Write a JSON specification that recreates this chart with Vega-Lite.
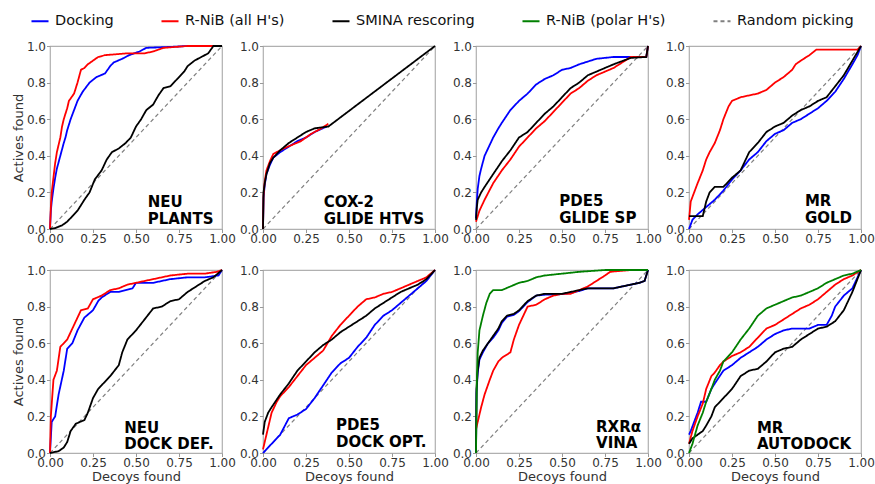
{
"$schema":"https://vega.github.io/schema/vega-lite/v6.json",
"background":"white",
"padding":{"left":11,"top":11,"right":5,"bottom":5},
"config":{
 "font":"DejaVu Sans",
 "view":{"stroke":"#b0b0b0","strokeWidth":1.2},
 "axis":{"domain":false,"grid":false,"tickColor":"#999999","tickSize":3.5,"labelPadding":1,"labelFont":"DejaVu Sans","labelFontSize":12,"labelColor":"#333333","labelFlush":false,"labelOverlap":false,"titleFont":"DejaVu Sans","titleFontSize":13,"titleFontWeight":"normal","titleColor":"#333333"},
 "axisX":{"titlePadding":2},
 "axisY":{"titlePadding":1,"values":[0,0.2,0.4,0.6,0.8,1],"format":".1f","labelOverlap":false},
 "legend":{"orient":"none","legendX":-20,"legendY":-35,"direction":"horizontal","columnPadding":43,"labelFont":"DejaVu Sans","labelFontSize":14.5,"labelColor":"#111111","labelOffset":5,"labelLimit":300,"symbolSize":290,"symbolStrokeWidth":2,"symbolType":"stroke","title":null,"labelExpr":"datum.label == 'SMINA rescoring' ? 'SMINA rescoring        ' : (datum.label == 'R-NiB (all H\\'s)' ? datum.label + '   ' : (datum.label == 'R-NiB (polar H\\'s)' ? datum.label + '      ' : datum.label))"}
},
"datasets":{
 "rand":[{"s":"Random picking","x":0,"y":0},{"s":"Random picking","x":1,"y":1}],
 "p1":[
  {"s":"Docking","x":0,"y":0},{"s":"Docking","x":0.005,"y":0.1},{"s":"Docking","x":0.01,"y":0.15},{"s":"Docking","x":0.02,"y":0.22},{"s":"Docking","x":0.03,"y":0.28},{"s":"Docking","x":0.04,"y":0.33},{"s":"Docking","x":0.06,"y":0.4},{"s":"Docking","x":0.08,"y":0.47},{"s":"Docking","x":0.09,"y":0.5},{"s":"Docking","x":0.1,"y":0.54},{"s":"Docking","x":0.12,"y":0.6},{"s":"Docking","x":0.14,"y":0.65},{"s":"Docking","x":0.16,"y":0.7},{"s":"Docking","x":0.19,"y":0.75},{"s":"Docking","x":0.23,"y":0.8},{"s":"Docking","x":0.27,"y":0.83},{"s":"Docking","x":0.32,"y":0.85},{"s":"Docking","x":0.35,"y":0.89},{"s":"Docking","x":0.37,"y":0.91},{"s":"Docking","x":0.42,"y":0.93},{"s":"Docking","x":0.46,"y":0.95},{"s":"Docking","x":0.52,"y":0.97},{"s":"Docking","x":0.56,"y":0.99},{"s":"Docking","x":0.7,"y":0.995},{"s":"Docking","x":0.8,"y":1},{"s":"Docking","x":1,"y":1},
  {"s":"R-NiB (all H's)","x":0,"y":0},{"s":"R-NiB (all H's)","x":0.005,"y":0.12},{"s":"R-NiB (all H's)","x":0.01,"y":0.2},{"s":"R-NiB (all H's)","x":0.02,"y":0.28},{"s":"R-NiB (all H's)","x":0.03,"y":0.36},{"s":"R-NiB (all H's)","x":0.04,"y":0.42},{"s":"R-NiB (all H's)","x":0.06,"y":0.5},{"s":"R-NiB (all H's)","x":0.07,"y":0.56},{"s":"R-NiB (all H's)","x":0.08,"y":0.6},{"s":"R-NiB (all H's)","x":0.1,"y":0.66},{"s":"R-NiB (all H's)","x":0.11,"y":0.7},{"s":"R-NiB (all H's)","x":0.14,"y":0.74},{"s":"R-NiB (all H's)","x":0.16,"y":0.8},{"s":"R-NiB (all H's)","x":0.18,"y":0.87},{"s":"R-NiB (all H's)","x":0.2,"y":0.88},{"s":"R-NiB (all H's)","x":0.22,"y":0.9},{"s":"R-NiB (all H's)","x":0.25,"y":0.92},{"s":"R-NiB (all H's)","x":0.28,"y":0.94},{"s":"R-NiB (all H's)","x":0.32,"y":0.95},{"s":"R-NiB (all H's)","x":0.45,"y":0.96},{"s":"R-NiB (all H's)","x":0.55,"y":0.96},{"s":"R-NiB (all H's)","x":0.6,"y":0.97},{"s":"R-NiB (all H's)","x":0.66,"y":0.99},{"s":"R-NiB (all H's)","x":0.8,"y":1},{"s":"R-NiB (all H's)","x":1,"y":1},
  {"s":"SMINA rescoring","x":0,"y":0},{"s":"SMINA rescoring","x":0.03,"y":0.005},{"s":"SMINA rescoring","x":0.07,"y":0.02},{"s":"SMINA rescoring","x":0.1,"y":0.04},{"s":"SMINA rescoring","x":0.13,"y":0.07},{"s":"SMINA rescoring","x":0.16,"y":0.1},{"s":"SMINA rescoring","x":0.2,"y":0.16},{"s":"SMINA rescoring","x":0.23,"y":0.2},{"s":"SMINA rescoring","x":0.26,"y":0.27},{"s":"SMINA rescoring","x":0.3,"y":0.32},{"s":"SMINA rescoring","x":0.33,"y":0.38},{"s":"SMINA rescoring","x":0.36,"y":0.42},{"s":"SMINA rescoring","x":0.4,"y":0.44},{"s":"SMINA rescoring","x":0.44,"y":0.47},{"s":"SMINA rescoring","x":0.47,"y":0.5},{"s":"SMINA rescoring","x":0.5,"y":0.56},{"s":"SMINA rescoring","x":0.53,"y":0.6},{"s":"SMINA rescoring","x":0.56,"y":0.65},{"s":"SMINA rescoring","x":0.6,"y":0.68},{"s":"SMINA rescoring","x":0.63,"y":0.73},{"s":"SMINA rescoring","x":0.66,"y":0.77},{"s":"SMINA rescoring","x":0.7,"y":0.78},{"s":"SMINA rescoring","x":0.74,"y":0.82},{"s":"SMINA rescoring","x":0.78,"y":0.86},{"s":"SMINA rescoring","x":0.8,"y":0.89},{"s":"SMINA rescoring","x":0.84,"y":0.92},{"s":"SMINA rescoring","x":0.88,"y":0.94},{"s":"SMINA rescoring","x":0.92,"y":0.96},{"s":"SMINA rescoring","x":0.95,"y":1},{"s":"SMINA rescoring","x":1,"y":1}
 ],
 "p2":[
  {"s":"Docking","x":0,"y":0},{"s":"Docking","x":0.003,"y":0.17},{"s":"Docking","x":0.01,"y":0.24},{"s":"Docking","x":0.02,"y":0.3},{"s":"Docking","x":0.04,"y":0.35},{"s":"Docking","x":0.06,"y":0.39},{"s":"Docking","x":0.1,"y":0.42},{"s":"Docking","x":0.15,"y":0.45},{"s":"Docking","x":0.2,"y":0.48},{"s":"Docking","x":0.25,"y":0.5},{"s":"Docking","x":0.3,"y":0.53},{"s":"Docking","x":0.37,"y":0.56},
  {"s":"R-NiB (all H's)","x":0,"y":0},{"s":"R-NiB (all H's)","x":0.003,"y":0.18},{"s":"R-NiB (all H's)","x":0.01,"y":0.26},{"s":"R-NiB (all H's)","x":0.02,"y":0.32},{"s":"R-NiB (all H's)","x":0.04,"y":0.37},{"s":"R-NiB (all H's)","x":0.06,"y":0.41},{"s":"R-NiB (all H's)","x":0.08,"y":0.42},{"s":"R-NiB (all H's)","x":0.12,"y":0.44},{"s":"R-NiB (all H's)","x":0.17,"y":0.46},{"s":"R-NiB (all H's)","x":0.22,"y":0.48},{"s":"R-NiB (all H's)","x":0.28,"y":0.52},{"s":"R-NiB (all H's)","x":0.34,"y":0.55},{"s":"R-NiB (all H's)","x":0.38,"y":0.575},
  {"s":"SMINA rescoring","x":0,"y":0},{"s":"SMINA rescoring","x":0.003,"y":0.2},{"s":"SMINA rescoring","x":0.01,"y":0.25},{"s":"SMINA rescoring","x":0.02,"y":0.3},{"s":"SMINA rescoring","x":0.04,"y":0.36},{"s":"SMINA rescoring","x":0.06,"y":0.39},{"s":"SMINA rescoring","x":0.1,"y":0.43},{"s":"SMINA rescoring","x":0.15,"y":0.47},{"s":"SMINA rescoring","x":0.2,"y":0.5},{"s":"SMINA rescoring","x":0.25,"y":0.53},{"s":"SMINA rescoring","x":0.3,"y":0.55},{"s":"SMINA rescoring","x":0.38,"y":0.56},{"s":"SMINA rescoring","x":1,"y":1}
 ],
 "p3":[
  {"s":"Docking","x":0,"y":0.06},{"s":"Docking","x":0.005,"y":0.15},{"s":"Docking","x":0.01,"y":0.22},{"s":"Docking","x":0.02,"y":0.29},{"s":"Docking","x":0.03,"y":0.33},{"s":"Docking","x":0.05,"y":0.4},{"s":"Docking","x":0.08,"y":0.46},{"s":"Docking","x":0.1,"y":0.5},{"s":"Docking","x":0.13,"y":0.55},{"s":"Docking","x":0.15,"y":0.58},{"s":"Docking","x":0.2,"y":0.65},{"s":"Docking","x":0.25,"y":0.7},{"s":"Docking","x":0.3,"y":0.74},{"s":"Docking","x":0.35,"y":0.79},{"s":"Docking","x":0.4,"y":0.82},{"s":"Docking","x":0.45,"y":0.84},{"s":"Docking","x":0.5,"y":0.87},{"s":"Docking","x":0.55,"y":0.88},{"s":"Docking","x":0.6,"y":0.9},{"s":"Docking","x":0.7,"y":0.93},{"s":"Docking","x":0.8,"y":0.94},{"s":"Docking","x":0.99,"y":0.94},{"s":"Docking","x":1,"y":1},
  {"s":"R-NiB (all H's)","x":0,"y":0.04},{"s":"R-NiB (all H's)","x":0.01,"y":0.07},{"s":"R-NiB (all H's)","x":0.02,"y":0.1},{"s":"R-NiB (all H's)","x":0.05,"y":0.16},{"s":"R-NiB (all H's)","x":0.1,"y":0.25},{"s":"R-NiB (all H's)","x":0.15,"y":0.32},{"s":"R-NiB (all H's)","x":0.2,"y":0.38},{"s":"R-NiB (all H's)","x":0.25,"y":0.45},{"s":"R-NiB (all H's)","x":0.3,"y":0.5},{"s":"R-NiB (all H's)","x":0.35,"y":0.55},{"s":"R-NiB (all H's)","x":0.4,"y":0.59},{"s":"R-NiB (all H's)","x":0.45,"y":0.64},{"s":"R-NiB (all H's)","x":0.5,"y":0.69},{"s":"R-NiB (all H's)","x":0.55,"y":0.74},{"s":"R-NiB (all H's)","x":0.6,"y":0.77},{"s":"R-NiB (all H's)","x":0.65,"y":0.81},{"s":"R-NiB (all H's)","x":0.7,"y":0.84},{"s":"R-NiB (all H's)","x":0.75,"y":0.86},{"s":"R-NiB (all H's)","x":0.8,"y":0.88},{"s":"R-NiB (all H's)","x":0.85,"y":0.91},{"s":"R-NiB (all H's)","x":0.9,"y":0.94},{"s":"R-NiB (all H's)","x":0.99,"y":0.94},{"s":"R-NiB (all H's)","x":1,"y":1},
  {"s":"SMINA rescoring","x":0,"y":0.05},{"s":"SMINA rescoring","x":0.005,"y":0.12},{"s":"SMINA rescoring","x":0.01,"y":0.16},{"s":"SMINA rescoring","x":0.03,"y":0.2},{"s":"SMINA rescoring","x":0.05,"y":0.23},{"s":"SMINA rescoring","x":0.1,"y":0.3},{"s":"SMINA rescoring","x":0.15,"y":0.37},{"s":"SMINA rescoring","x":0.2,"y":0.43},{"s":"SMINA rescoring","x":0.25,"y":0.5},{"s":"SMINA rescoring","x":0.3,"y":0.53},{"s":"SMINA rescoring","x":0.35,"y":0.58},{"s":"SMINA rescoring","x":0.4,"y":0.63},{"s":"SMINA rescoring","x":0.45,"y":0.67},{"s":"SMINA rescoring","x":0.5,"y":0.72},{"s":"SMINA rescoring","x":0.55,"y":0.77},{"s":"SMINA rescoring","x":0.6,"y":0.8},{"s":"SMINA rescoring","x":0.65,"y":0.84},{"s":"SMINA rescoring","x":0.7,"y":0.86},{"s":"SMINA rescoring","x":0.8,"y":0.9},{"s":"SMINA rescoring","x":0.9,"y":0.935},{"s":"SMINA rescoring","x":0.99,"y":0.94},{"s":"SMINA rescoring","x":1,"y":1}
 ],
 "p4":[
  {"s":"Docking","x":0,"y":0},{"s":"Docking","x":0.02,"y":0.05},{"s":"Docking","x":0.05,"y":0.08},{"s":"Docking","x":0.1,"y":0.12},{"s":"Docking","x":0.15,"y":0.16},{"s":"Docking","x":0.2,"y":0.21},{"s":"Docking","x":0.25,"y":0.27},{"s":"Docking","x":0.3,"y":0.32},{"s":"Docking","x":0.35,"y":0.38},{"s":"Docking","x":0.4,"y":0.42},{"s":"Docking","x":0.45,"y":0.48},{"s":"Docking","x":0.5,"y":0.52},{"s":"Docking","x":0.55,"y":0.54},{"s":"Docking","x":0.6,"y":0.58},{"s":"Docking","x":0.65,"y":0.6},{"s":"Docking","x":0.7,"y":0.63},{"s":"Docking","x":0.75,"y":0.66},{"s":"Docking","x":0.8,"y":0.7},{"s":"Docking","x":0.85,"y":0.75},{"s":"Docking","x":0.9,"y":0.82},{"s":"Docking","x":0.95,"y":0.9},{"s":"Docking","x":0.98,"y":0.95},{"s":"Docking","x":1,"y":1},
  {"s":"R-NiB (all H's)","x":0,"y":0.05},{"s":"R-NiB (all H's)","x":0.01,"y":0.15},{"s":"R-NiB (all H's)","x":0.03,"y":0.2},{"s":"R-NiB (all H's)","x":0.05,"y":0.25},{"s":"R-NiB (all H's)","x":0.08,"y":0.32},{"s":"R-NiB (all H's)","x":0.1,"y":0.38},{"s":"R-NiB (all H's)","x":0.12,"y":0.42},{"s":"R-NiB (all H's)","x":0.15,"y":0.47},{"s":"R-NiB (all H's)","x":0.18,"y":0.54},{"s":"R-NiB (all H's)","x":0.2,"y":0.6},{"s":"R-NiB (all H's)","x":0.23,"y":0.67},{"s":"R-NiB (all H's)","x":0.25,"y":0.7},{"s":"R-NiB (all H's)","x":0.3,"y":0.72},{"s":"R-NiB (all H's)","x":0.35,"y":0.73},{"s":"R-NiB (all H's)","x":0.4,"y":0.74},{"s":"R-NiB (all H's)","x":0.45,"y":0.76},{"s":"R-NiB (all H's)","x":0.5,"y":0.8},{"s":"R-NiB (all H's)","x":0.55,"y":0.83},{"s":"R-NiB (all H's)","x":0.6,"y":0.87},{"s":"R-NiB (all H's)","x":0.62,"y":0.9},{"s":"R-NiB (all H's)","x":0.65,"y":0.92},{"s":"R-NiB (all H's)","x":0.7,"y":0.95},{"s":"R-NiB (all H's)","x":0.74,"y":0.98},{"s":"R-NiB (all H's)","x":0.98,"y":0.98},{"s":"R-NiB (all H's)","x":1,"y":1},
  {"s":"SMINA rescoring","x":0,"y":0.07},{"s":"SMINA rescoring","x":0.08,"y":0.07},{"s":"SMINA rescoring","x":0.1,"y":0.15},{"s":"SMINA rescoring","x":0.12,"y":0.2},{"s":"SMINA rescoring","x":0.15,"y":0.23},{"s":"SMINA rescoring","x":0.2,"y":0.23},{"s":"SMINA rescoring","x":0.25,"y":0.28},{"s":"SMINA rescoring","x":0.3,"y":0.32},{"s":"SMINA rescoring","x":0.35,"y":0.42},{"s":"SMINA rescoring","x":0.4,"y":0.47},{"s":"SMINA rescoring","x":0.45,"y":0.53},{"s":"SMINA rescoring","x":0.5,"y":0.56},{"s":"SMINA rescoring","x":0.55,"y":0.58},{"s":"SMINA rescoring","x":0.6,"y":0.62},{"s":"SMINA rescoring","x":0.65,"y":0.65},{"s":"SMINA rescoring","x":0.7,"y":0.67},{"s":"SMINA rescoring","x":0.75,"y":0.7},{"s":"SMINA rescoring","x":0.8,"y":0.72},{"s":"SMINA rescoring","x":0.85,"y":0.78},{"s":"SMINA rescoring","x":0.9,"y":0.84},{"s":"SMINA rescoring","x":0.95,"y":0.92},{"s":"SMINA rescoring","x":1,"y":1}
 ],
 "p5":[
  {"s":"Docking","x":0,"y":0},{"s":"Docking","x":0.01,"y":0.17},{"s":"Docking","x":0.03,"y":0.2},{"s":"Docking","x":0.05,"y":0.32},{"s":"Docking","x":0.08,"y":0.45},{"s":"Docking","x":0.1,"y":0.57},{"s":"Docking","x":0.13,"y":0.6},{"s":"Docking","x":0.16,"y":0.67},{"s":"Docking","x":0.2,"y":0.74},{"s":"Docking","x":0.25,"y":0.78},{"s":"Docking","x":0.28,"y":0.83},{"s":"Docking","x":0.3,"y":0.85},{"s":"Docking","x":0.35,"y":0.88},{"s":"Docking","x":0.4,"y":0.88},{"s":"Docking","x":0.48,"y":0.9},{"s":"Docking","x":0.5,"y":0.93},{"s":"Docking","x":0.6,"y":0.93},{"s":"Docking","x":0.7,"y":0.95},{"s":"Docking","x":0.8,"y":0.96},{"s":"Docking","x":0.9,"y":0.96},{"s":"Docking","x":0.98,"y":0.97},{"s":"Docking","x":1,"y":1},
  {"s":"R-NiB (all H's)","x":0,"y":0},{"s":"R-NiB (all H's)","x":0.005,"y":0.2},{"s":"R-NiB (all H's)","x":0.02,"y":0.4},{"s":"R-NiB (all H's)","x":0.04,"y":0.45},{"s":"R-NiB (all H's)","x":0.06,"y":0.58},{"s":"R-NiB (all H's)","x":0.1,"y":0.62},{"s":"R-NiB (all H's)","x":0.12,"y":0.66},{"s":"R-NiB (all H's)","x":0.15,"y":0.72},{"s":"R-NiB (all H's)","x":0.18,"y":0.78},{"s":"R-NiB (all H's)","x":0.22,"y":0.79},{"s":"R-NiB (all H's)","x":0.25,"y":0.84},{"s":"R-NiB (all H's)","x":0.3,"y":0.86},{"s":"R-NiB (all H's)","x":0.35,"y":0.89},{"s":"R-NiB (all H's)","x":0.4,"y":0.9},{"s":"R-NiB (all H's)","x":0.45,"y":0.92},{"s":"R-NiB (all H's)","x":0.5,"y":0.93},{"s":"R-NiB (all H's)","x":0.6,"y":0.95},{"s":"R-NiB (all H's)","x":0.7,"y":0.97},{"s":"R-NiB (all H's)","x":0.8,"y":0.98},{"s":"R-NiB (all H's)","x":0.9,"y":0.98},{"s":"R-NiB (all H's)","x":0.97,"y":0.99},{"s":"R-NiB (all H's)","x":1,"y":1},
  {"s":"SMINA rescoring","x":0,"y":0},{"s":"SMINA rescoring","x":0.05,"y":0.01},{"s":"SMINA rescoring","x":0.08,"y":0.03},{"s":"SMINA rescoring","x":0.1,"y":0.06},{"s":"SMINA rescoring","x":0.12,"y":0.12},{"s":"SMINA rescoring","x":0.15,"y":0.16},{"s":"SMINA rescoring","x":0.2,"y":0.18},{"s":"SMINA rescoring","x":0.22,"y":0.22},{"s":"SMINA rescoring","x":0.25,"y":0.3},{"s":"SMINA rescoring","x":0.28,"y":0.35},{"s":"SMINA rescoring","x":0.3,"y":0.37},{"s":"SMINA rescoring","x":0.35,"y":0.42},{"s":"SMINA rescoring","x":0.4,"y":0.48},{"s":"SMINA rescoring","x":0.42,"y":0.55},{"s":"SMINA rescoring","x":0.45,"y":0.62},{"s":"SMINA rescoring","x":0.5,"y":0.67},{"s":"SMINA rescoring","x":0.55,"y":0.73},{"s":"SMINA rescoring","x":0.6,"y":0.79},{"s":"SMINA rescoring","x":0.65,"y":0.8},{"s":"SMINA rescoring","x":0.7,"y":0.83},{"s":"SMINA rescoring","x":0.75,"y":0.84},{"s":"SMINA rescoring","x":0.8,"y":0.88},{"s":"SMINA rescoring","x":0.85,"y":0.91},{"s":"SMINA rescoring","x":0.9,"y":0.94},{"s":"SMINA rescoring","x":0.95,"y":0.96},{"s":"SMINA rescoring","x":1,"y":1}
 ],
 "p6":[
  {"s":"Docking","x":0,"y":0},{"s":"Docking","x":0.05,"y":0.05},{"s":"Docking","x":0.1,"y":0.1},{"s":"Docking","x":0.15,"y":0.19},{"s":"Docking","x":0.2,"y":0.21},{"s":"Docking","x":0.25,"y":0.24},{"s":"Docking","x":0.3,"y":0.3},{"s":"Docking","x":0.35,"y":0.37},{"s":"Docking","x":0.4,"y":0.44},{"s":"Docking","x":0.45,"y":0.49},{"s":"Docking","x":0.5,"y":0.52},{"s":"Docking","x":0.55,"y":0.58},{"s":"Docking","x":0.6,"y":0.63},{"s":"Docking","x":0.65,"y":0.7},{"s":"Docking","x":0.7,"y":0.75},{"s":"Docking","x":0.75,"y":0.78},{"s":"Docking","x":0.8,"y":0.82},{"s":"Docking","x":0.85,"y":0.86},{"s":"Docking","x":0.9,"y":0.9},{"s":"Docking","x":0.95,"y":0.94},{"s":"Docking","x":1,"y":1},
  {"s":"R-NiB (all H's)","x":0,"y":0.02},{"s":"R-NiB (all H's)","x":0.02,"y":0.1},{"s":"R-NiB (all H's)","x":0.05,"y":0.22},{"s":"R-NiB (all H's)","x":0.08,"y":0.28},{"s":"R-NiB (all H's)","x":0.1,"y":0.31},{"s":"R-NiB (all H's)","x":0.15,"y":0.36},{"s":"R-NiB (all H's)","x":0.2,"y":0.42},{"s":"R-NiB (all H's)","x":0.25,"y":0.48},{"s":"R-NiB (all H's)","x":0.3,"y":0.52},{"s":"R-NiB (all H's)","x":0.35,"y":0.56},{"s":"R-NiB (all H's)","x":0.4,"y":0.64},{"s":"R-NiB (all H's)","x":0.45,"y":0.7},{"s":"R-NiB (all H's)","x":0.5,"y":0.75},{"s":"R-NiB (all H's)","x":0.55,"y":0.8},{"s":"R-NiB (all H's)","x":0.6,"y":0.84},{"s":"R-NiB (all H's)","x":0.65,"y":0.85},{"s":"R-NiB (all H's)","x":0.7,"y":0.87},{"s":"R-NiB (all H's)","x":0.75,"y":0.88},{"s":"R-NiB (all H's)","x":0.8,"y":0.9},{"s":"R-NiB (all H's)","x":0.85,"y":0.92},{"s":"R-NiB (all H's)","x":0.9,"y":0.94},{"s":"R-NiB (all H's)","x":0.95,"y":0.96},{"s":"R-NiB (all H's)","x":1,"y":1},
  {"s":"SMINA rescoring","x":0,"y":0.1},{"s":"SMINA rescoring","x":0.01,"y":0.17},{"s":"SMINA rescoring","x":0.03,"y":0.22},{"s":"SMINA rescoring","x":0.05,"y":0.25},{"s":"SMINA rescoring","x":0.1,"y":0.32},{"s":"SMINA rescoring","x":0.15,"y":0.38},{"s":"SMINA rescoring","x":0.2,"y":0.45},{"s":"SMINA rescoring","x":0.25,"y":0.5},{"s":"SMINA rescoring","x":0.3,"y":0.55},{"s":"SMINA rescoring","x":0.35,"y":0.59},{"s":"SMINA rescoring","x":0.4,"y":0.62},{"s":"SMINA rescoring","x":0.45,"y":0.66},{"s":"SMINA rescoring","x":0.5,"y":0.69},{"s":"SMINA rescoring","x":0.55,"y":0.72},{"s":"SMINA rescoring","x":0.6,"y":0.75},{"s":"SMINA rescoring","x":0.65,"y":0.79},{"s":"SMINA rescoring","x":0.7,"y":0.82},{"s":"SMINA rescoring","x":0.75,"y":0.85},{"s":"SMINA rescoring","x":0.8,"y":0.88},{"s":"SMINA rescoring","x":0.85,"y":0.9},{"s":"SMINA rescoring","x":0.9,"y":0.92},{"s":"SMINA rescoring","x":0.95,"y":0.95},{"s":"SMINA rescoring","x":1,"y":1}
 ],
 "p7":[
  {"s":"Docking","x":0,"y":0},{"s":"Docking","x":0.003,"y":0.33},{"s":"Docking","x":0.01,"y":0.44},{"s":"Docking","x":0.02,"y":0.51},{"s":"Docking","x":0.04,"y":0.55},{"s":"Docking","x":0.07,"y":0.6},{"s":"Docking","x":0.1,"y":0.63},{"s":"Docking","x":0.13,"y":0.67},{"s":"Docking","x":0.15,"y":0.71},{"s":"Docking","x":0.18,"y":0.745},{"s":"Docking","x":0.22,"y":0.755},{"s":"Docking","x":0.25,"y":0.775},{"s":"Docking","x":0.28,"y":0.805},{"s":"Docking","x":0.3,"y":0.825},{"s":"Docking","x":0.35,"y":0.86},{"s":"Docking","x":0.4,"y":0.865},{"s":"Docking","x":0.5,"y":0.868},{"s":"Docking","x":0.55,"y":0.875},{"s":"Docking","x":0.6,"y":0.885},{"s":"Docking","x":0.65,"y":0.9},{"s":"Docking","x":0.7,"y":0.9},{"s":"Docking","x":0.8,"y":0.9},{"s":"Docking","x":0.85,"y":0.91},{"s":"Docking","x":0.9,"y":0.92},{"s":"Docking","x":0.95,"y":0.93},{"s":"Docking","x":0.98,"y":0.94},{"s":"Docking","x":1,"y":1},
  {"s":"R-NiB (all H's)","x":0,"y":0.13},{"s":"R-NiB (all H's)","x":0.01,"y":0.17},{"s":"R-NiB (all H's)","x":0.03,"y":0.25},{"s":"R-NiB (all H's)","x":0.05,"y":0.32},{"s":"R-NiB (all H's)","x":0.08,"y":0.4},{"s":"R-NiB (all H's)","x":0.1,"y":0.45},{"s":"R-NiB (all H's)","x":0.13,"y":0.5},{"s":"R-NiB (all H's)","x":0.15,"y":0.52},{"s":"R-NiB (all H's)","x":0.2,"y":0.55},{"s":"R-NiB (all H's)","x":0.22,"y":0.62},{"s":"R-NiB (all H's)","x":0.25,"y":0.7},{"s":"R-NiB (all H's)","x":0.28,"y":0.76},{"s":"R-NiB (all H's)","x":0.3,"y":0.8},{"s":"R-NiB (all H's)","x":0.35,"y":0.81},{"s":"R-NiB (all H's)","x":0.4,"y":0.84},{"s":"R-NiB (all H's)","x":0.45,"y":0.86},{"s":"R-NiB (all H's)","x":0.5,"y":0.87},{"s":"R-NiB (all H's)","x":0.55,"y":0.87},{"s":"R-NiB (all H's)","x":0.6,"y":0.89},{"s":"R-NiB (all H's)","x":0.65,"y":0.91},{"s":"R-NiB (all H's)","x":0.7,"y":0.94},{"s":"R-NiB (all H's)","x":0.75,"y":0.97},{"s":"R-NiB (all H's)","x":0.78,"y":0.99},{"s":"R-NiB (all H's)","x":0.9,"y":1},{"s":"R-NiB (all H's)","x":1,"y":1},
  {"s":"SMINA rescoring","x":0,"y":0},{"s":"SMINA rescoring","x":0.003,"y":0.35},{"s":"SMINA rescoring","x":0.01,"y":0.45},{"s":"SMINA rescoring","x":0.02,"y":0.52},{"s":"SMINA rescoring","x":0.04,"y":0.56},{"s":"SMINA rescoring","x":0.07,"y":0.6},{"s":"SMINA rescoring","x":0.1,"y":0.64},{"s":"SMINA rescoring","x":0.13,"y":0.68},{"s":"SMINA rescoring","x":0.15,"y":0.72},{"s":"SMINA rescoring","x":0.18,"y":0.75},{"s":"SMINA rescoring","x":0.22,"y":0.76},{"s":"SMINA rescoring","x":0.25,"y":0.78},{"s":"SMINA rescoring","x":0.28,"y":0.81},{"s":"SMINA rescoring","x":0.3,"y":0.83},{"s":"SMINA rescoring","x":0.35,"y":0.86},{"s":"SMINA rescoring","x":0.4,"y":0.87},{"s":"SMINA rescoring","x":0.5,"y":0.87},{"s":"SMINA rescoring","x":0.55,"y":0.88},{"s":"SMINA rescoring","x":0.6,"y":0.89},{"s":"SMINA rescoring","x":0.65,"y":0.9},{"s":"SMINA rescoring","x":0.8,"y":0.9},{"s":"SMINA rescoring","x":0.85,"y":0.91},{"s":"SMINA rescoring","x":0.9,"y":0.92},{"s":"SMINA rescoring","x":0.95,"y":0.93},{"s":"SMINA rescoring","x":0.98,"y":0.94},{"s":"SMINA rescoring","x":1,"y":1},
  {"s":"R-NiB (polar H's)","x":0,"y":0},{"s":"R-NiB (polar H's)","x":0.005,"y":0.4},{"s":"R-NiB (polar H's)","x":0.01,"y":0.55},{"s":"R-NiB (polar H's)","x":0.02,"y":0.67},{"s":"R-NiB (polar H's)","x":0.04,"y":0.75},{"s":"R-NiB (polar H's)","x":0.06,"y":0.82},{"s":"R-NiB (polar H's)","x":0.08,"y":0.87},{"s":"R-NiB (polar H's)","x":0.1,"y":0.89},{"s":"R-NiB (polar H's)","x":0.15,"y":0.89},{"s":"R-NiB (polar H's)","x":0.2,"y":0.91},{"s":"R-NiB (polar H's)","x":0.25,"y":0.93},{"s":"R-NiB (polar H's)","x":0.3,"y":0.94},{"s":"R-NiB (polar H's)","x":0.35,"y":0.96},{"s":"R-NiB (polar H's)","x":0.4,"y":0.97},{"s":"R-NiB (polar H's)","x":0.5,"y":0.98},{"s":"R-NiB (polar H's)","x":0.6,"y":0.99},{"s":"R-NiB (polar H's)","x":0.75,"y":1},{"s":"R-NiB (polar H's)","x":1,"y":1}
 ],
 "p8":[
  {"s":"Docking","x":0,"y":0.1},{"s":"Docking","x":0.01,"y":0.12},{"s":"Docking","x":0.03,"y":0.17},{"s":"Docking","x":0.05,"y":0.22},{"s":"Docking","x":0.07,"y":0.28},{"s":"Docking","x":0.1,"y":0.28},{"s":"Docking","x":0.13,"y":0.35},{"s":"Docking","x":0.15,"y":0.38},{"s":"Docking","x":0.2,"y":0.45},{"s":"Docking","x":0.25,"y":0.48},{"s":"Docking","x":0.3,"y":0.52},{"s":"Docking","x":0.35,"y":0.55},{"s":"Docking","x":0.4,"y":0.58},{"s":"Docking","x":0.45,"y":0.62},{"s":"Docking","x":0.5,"y":0.65},{"s":"Docking","x":0.55,"y":0.67},{"s":"Docking","x":0.6,"y":0.68},{"s":"Docking","x":0.7,"y":0.68},{"s":"Docking","x":0.75,"y":0.7},{"s":"Docking","x":0.8,"y":0.7},{"s":"Docking","x":0.83,"y":0.75},{"s":"Docking","x":0.85,"y":0.8},{"s":"Docking","x":0.9,"y":0.86},{"s":"Docking","x":0.95,"y":0.9},{"s":"Docking","x":1,"y":1},
  {"s":"R-NiB (all H's)","x":0,"y":0.05},{"s":"R-NiB (all H's)","x":0.02,"y":0.12},{"s":"R-NiB (all H's)","x":0.05,"y":0.2},{"s":"R-NiB (all H's)","x":0.08,"y":0.27},{"s":"R-NiB (all H's)","x":0.1,"y":0.35},{"s":"R-NiB (all H's)","x":0.13,"y":0.42},{"s":"R-NiB (all H's)","x":0.15,"y":0.44},{"s":"R-NiB (all H's)","x":0.18,"y":0.48},{"s":"R-NiB (all H's)","x":0.2,"y":0.5},{"s":"R-NiB (all H's)","x":0.25,"y":0.53},{"s":"R-NiB (all H's)","x":0.3,"y":0.55},{"s":"R-NiB (all H's)","x":0.35,"y":0.58},{"s":"R-NiB (all H's)","x":0.4,"y":0.63},{"s":"R-NiB (all H's)","x":0.45,"y":0.68},{"s":"R-NiB (all H's)","x":0.5,"y":0.7},{"s":"R-NiB (all H's)","x":0.55,"y":0.73},{"s":"R-NiB (all H's)","x":0.6,"y":0.76},{"s":"R-NiB (all H's)","x":0.65,"y":0.79},{"s":"R-NiB (all H's)","x":0.7,"y":0.81},{"s":"R-NiB (all H's)","x":0.75,"y":0.84},{"s":"R-NiB (all H's)","x":0.8,"y":0.88},{"s":"R-NiB (all H's)","x":0.85,"y":0.92},{"s":"R-NiB (all H's)","x":0.9,"y":0.95},{"s":"R-NiB (all H's)","x":0.95,"y":0.97},{"s":"R-NiB (all H's)","x":1,"y":1},
  {"s":"SMINA rescoring","x":0,"y":0.05},{"s":"SMINA rescoring","x":0.02,"y":0.08},{"s":"SMINA rescoring","x":0.05,"y":0.1},{"s":"SMINA rescoring","x":0.08,"y":0.12},{"s":"SMINA rescoring","x":0.1,"y":0.15},{"s":"SMINA rescoring","x":0.13,"y":0.2},{"s":"SMINA rescoring","x":0.15,"y":0.25},{"s":"SMINA rescoring","x":0.2,"y":0.3},{"s":"SMINA rescoring","x":0.25,"y":0.35},{"s":"SMINA rescoring","x":0.3,"y":0.42},{"s":"SMINA rescoring","x":0.35,"y":0.45},{"s":"SMINA rescoring","x":0.4,"y":0.46},{"s":"SMINA rescoring","x":0.45,"y":0.5},{"s":"SMINA rescoring","x":0.5,"y":0.55},{"s":"SMINA rescoring","x":0.55,"y":0.57},{"s":"SMINA rescoring","x":0.6,"y":0.58},{"s":"SMINA rescoring","x":0.65,"y":0.62},{"s":"SMINA rescoring","x":0.7,"y":0.65},{"s":"SMINA rescoring","x":0.75,"y":0.68},{"s":"SMINA rescoring","x":0.8,"y":0.69},{"s":"SMINA rescoring","x":0.85,"y":0.72},{"s":"SMINA rescoring","x":0.9,"y":0.78},{"s":"SMINA rescoring","x":0.95,"y":0.88},{"s":"SMINA rescoring","x":1,"y":1},
  {"s":"R-NiB (polar H's)","x":0,"y":0},{"s":"R-NiB (polar H's)","x":0.02,"y":0.05},{"s":"R-NiB (polar H's)","x":0.05,"y":0.15},{"s":"R-NiB (polar H's)","x":0.08,"y":0.22},{"s":"R-NiB (polar H's)","x":0.1,"y":0.28},{"s":"R-NiB (polar H's)","x":0.13,"y":0.35},{"s":"R-NiB (polar H's)","x":0.15,"y":0.4},{"s":"R-NiB (polar H's)","x":0.18,"y":0.45},{"s":"R-NiB (polar H's)","x":0.2,"y":0.5},{"s":"R-NiB (polar H's)","x":0.25,"y":0.55},{"s":"R-NiB (polar H's)","x":0.3,"y":0.62},{"s":"R-NiB (polar H's)","x":0.35,"y":0.68},{"s":"R-NiB (polar H's)","x":0.4,"y":0.75},{"s":"R-NiB (polar H's)","x":0.45,"y":0.79},{"s":"R-NiB (polar H's)","x":0.5,"y":0.81},{"s":"R-NiB (polar H's)","x":0.55,"y":0.83},{"s":"R-NiB (polar H's)","x":0.6,"y":0.85},{"s":"R-NiB (polar H's)","x":0.65,"y":0.86},{"s":"R-NiB (polar H's)","x":0.7,"y":0.88},{"s":"R-NiB (polar H's)","x":0.75,"y":0.9},{"s":"R-NiB (polar H's)","x":0.8,"y":0.93},{"s":"R-NiB (polar H's)","x":0.85,"y":0.95},{"s":"R-NiB (polar H's)","x":0.9,"y":0.97},{"s":"R-NiB (polar H's)","x":0.95,"y":0.98},{"s":"R-NiB (polar H's)","x":1,"y":1}
 ]
},
"columns":4,
"spacing":41,
"bounds":"flush",
"concat":[
  {"width":172,"height":183,
   "layer":[
    {"data":{"name":"rand"},"mark":{"type":"line","strokeWidth":1.2},"encoding":{"x":{"field":"x","type":"quantitative","scale":{"domain":[0,1],"nice":false},"axis":{"title":null,"values":[0,0.25,0.5,0.75,1],"format":".2f"}},"y":{"field":"y","type":"quantitative","scale":{"domain":[0,1],"nice":false},"axis":{"title":"Actives found"}},"color":{"field":"s","type":"nominal","scale":{"domain":["Docking","R-NiB (all H's)","SMINA rescoring","R-NiB (polar H's)","Random picking"],"range":["#0000ff","#ff0000","#000000","#008000","#808080"]},"legend":{"title":null}},"strokeDash":{"field":"s","type":"nominal","scale":{"domain":["Docking","R-NiB (all H's)","SMINA rescoring","R-NiB (polar H's)","Random picking"],"range":[[1,0],[1,0],[1,0],[1,0],[4,3]]},"legend":{"title":null}}}},
    {"data":{"name":"p1"},"mark":{"type":"line","strokeWidth":1.8},"encoding":{"x":{"field":"x","type":"quantitative"},"y":{"field":"y","type":"quantitative"},"color":{"field":"s","type":"nominal"},"strokeDash":{"field":"s","type":"nominal"}}},
    {"data":{"values":[{}]},"mark":{"type":"text","text":["NEU","PLANTS"],"align":"left","baseline":"alphabetic","font":"DejaVu Sans","fontWeight":"bold","fontSize":15,"lineHeight":16.5,"color":"#000000"},"encoding":{"x":{"datum":0.568,"type":"quantitative"},"y":{"datum":0.12,"type":"quantitative"}}}
   ]},
  {"width":172,"height":183,
   "layer":[
    {"data":{"name":"rand"},"mark":{"type":"line","strokeWidth":1.2},"encoding":{"x":{"field":"x","type":"quantitative","scale":{"domain":[0,1],"nice":false},"axis":{"title":null,"values":[0,0.25,0.5,0.75,1],"format":".2f"}},"y":{"field":"y","type":"quantitative","scale":{"domain":[0,1],"nice":false},"axis":{"title":null}},"color":{"field":"s","type":"nominal"},"strokeDash":{"field":"s","type":"nominal"}}},
    {"data":{"name":"p2"},"mark":{"type":"line","strokeWidth":1.8},"encoding":{"x":{"field":"x","type":"quantitative"},"y":{"field":"y","type":"quantitative"},"color":{"field":"s","type":"nominal"},"strokeDash":{"field":"s","type":"nominal"}}},
    {"data":{"values":[{}]},"mark":{"type":"text","text":["COX-2","GLIDE HTVS"],"align":"left","baseline":"alphabetic","font":"DejaVu Sans","fontWeight":"bold","fontSize":15,"lineHeight":16.5,"color":"#000000"},"encoding":{"x":{"datum":0.353,"type":"quantitative"},"y":{"datum":0.12,"type":"quantitative"}}}
   ]},
  {"width":172,"height":183,
   "layer":[
    {"data":{"name":"rand"},"mark":{"type":"line","strokeWidth":1.2},"encoding":{"x":{"field":"x","type":"quantitative","scale":{"domain":[0,1],"nice":false},"axis":{"title":null,"values":[0,0.25,0.5,0.75,1],"format":".2f"}},"y":{"field":"y","type":"quantitative","scale":{"domain":[0,1],"nice":false},"axis":{"title":null}},"color":{"field":"s","type":"nominal"},"strokeDash":{"field":"s","type":"nominal"}}},
    {"data":{"name":"p3"},"mark":{"type":"line","strokeWidth":1.8},"encoding":{"x":{"field":"x","type":"quantitative"},"y":{"field":"y","type":"quantitative"},"color":{"field":"s","type":"nominal"},"strokeDash":{"field":"s","type":"nominal"}}},
    {"data":{"values":[{}]},"mark":{"type":"text","text":["PDE5","GLIDE SP"],"align":"left","baseline":"alphabetic","font":"DejaVu Sans","fontWeight":"bold","fontSize":15,"lineHeight":16.5,"color":"#000000"},"encoding":{"x":{"datum":0.484,"type":"quantitative"},"y":{"datum":0.125,"type":"quantitative"}}}
   ]},
  {"width":172,"height":183,
   "layer":[
    {"data":{"name":"rand"},"mark":{"type":"line","strokeWidth":1.2},"encoding":{"x":{"field":"x","type":"quantitative","scale":{"domain":[0,1],"nice":false},"axis":{"title":null,"values":[0,0.25,0.5,0.75,1],"format":".2f"}},"y":{"field":"y","type":"quantitative","scale":{"domain":[0,1],"nice":false},"axis":{"title":null}},"color":{"field":"s","type":"nominal"},"strokeDash":{"field":"s","type":"nominal"}}},
    {"data":{"name":"p4"},"mark":{"type":"line","strokeWidth":1.8},"encoding":{"x":{"field":"x","type":"quantitative"},"y":{"field":"y","type":"quantitative"},"color":{"field":"s","type":"nominal"},"strokeDash":{"field":"s","type":"nominal"}}},
    {"data":{"values":[{}]},"mark":{"type":"text","text":["MR","GOLD"],"align":"left","baseline":"alphabetic","font":"DejaVu Sans","fontWeight":"bold","fontSize":15,"lineHeight":16.5,"color":"#000000"},"encoding":{"x":{"datum":0.674,"type":"quantitative"},"y":{"datum":0.125,"type":"quantitative"}}}
   ]},
  {"width":172,"height":183,
   "layer":[
    {"data":{"name":"rand"},"mark":{"type":"line","strokeWidth":1.2},"encoding":{"x":{"field":"x","type":"quantitative","scale":{"domain":[0,1],"nice":false},"axis":{"title":"Decoys found","values":[0,0.25,0.5,0.75,1],"format":".2f"}},"y":{"field":"y","type":"quantitative","scale":{"domain":[0,1],"nice":false},"axis":{"title":"Actives found"}},"color":{"field":"s","type":"nominal"},"strokeDash":{"field":"s","type":"nominal"}}},
    {"data":{"name":"p5"},"mark":{"type":"line","strokeWidth":1.8},"encoding":{"x":{"field":"x","type":"quantitative"},"y":{"field":"y","type":"quantitative"},"color":{"field":"s","type":"nominal"},"strokeDash":{"field":"s","type":"nominal"}}},
    {"data":{"values":[{}]},"mark":{"type":"text","text":["NEU","DOCK DEF."],"align":"left","baseline":"alphabetic","font":"DejaVu Sans","fontWeight":"bold","fontSize":15,"lineHeight":16.5,"color":"#000000"},"encoding":{"x":{"datum":0.432,"type":"quantitative"},"y":{"datum":0.11,"type":"quantitative"}}}
   ]},
  {"width":172,"height":183,
   "layer":[
    {"data":{"name":"rand"},"mark":{"type":"line","strokeWidth":1.2},"encoding":{"x":{"field":"x","type":"quantitative","scale":{"domain":[0,1],"nice":false},"axis":{"title":"Decoys found","values":[0,0.25,0.5,0.75,1],"format":".2f"}},"y":{"field":"y","type":"quantitative","scale":{"domain":[0,1],"nice":false},"axis":{"title":null}},"color":{"field":"s","type":"nominal"},"strokeDash":{"field":"s","type":"nominal"}}},
    {"data":{"name":"p6"},"mark":{"type":"line","strokeWidth":1.8},"encoding":{"x":{"field":"x","type":"quantitative"},"y":{"field":"y","type":"quantitative"},"color":{"field":"s","type":"nominal"},"strokeDash":{"field":"s","type":"nominal"}}},
    {"data":{"values":[{}]},"mark":{"type":"text","text":["PDE5","DOCK OPT."],"align":"left","baseline":"alphabetic","font":"DejaVu Sans","fontWeight":"bold","fontSize":15,"lineHeight":16.5,"color":"#000000"},"encoding":{"x":{"datum":0.424,"type":"quantitative"},"y":{"datum":0.125,"type":"quantitative"}}}
   ]},
  {"width":172,"height":183,
   "layer":[
    {"data":{"name":"rand"},"mark":{"type":"line","strokeWidth":1.2},"encoding":{"x":{"field":"x","type":"quantitative","scale":{"domain":[0,1],"nice":false},"axis":{"title":"Decoys found","values":[0,0.25,0.5,0.75,1],"format":".2f"}},"y":{"field":"y","type":"quantitative","scale":{"domain":[0,1],"nice":false},"axis":{"title":null}},"color":{"field":"s","type":"nominal"},"strokeDash":{"field":"s","type":"nominal"}}},
    {"data":{"name":"p7"},"mark":{"type":"line","strokeWidth":1.8},"encoding":{"x":{"field":"x","type":"quantitative"},"y":{"field":"y","type":"quantitative"},"color":{"field":"s","type":"nominal"},"strokeDash":{"field":"s","type":"nominal"}}},
    {"data":{"values":[{}]},"mark":{"type":"text","text":["RXRα","VINA"],"align":"left","baseline":"alphabetic","font":"DejaVu Sans","fontWeight":"bold","fontSize":15,"lineHeight":16.5,"color":"#000000"},"encoding":{"x":{"datum":0.698,"type":"quantitative"},"y":{"datum":0.115,"type":"quantitative"}}}
   ]},
  {"width":172,"height":183,
   "layer":[
    {"data":{"name":"rand"},"mark":{"type":"line","strokeWidth":1.2},"encoding":{"x":{"field":"x","type":"quantitative","scale":{"domain":[0,1],"nice":false},"axis":{"title":"Decoys found","values":[0,0.25,0.5,0.75,1],"format":".2f"}},"y":{"field":"y","type":"quantitative","scale":{"domain":[0,1],"nice":false},"axis":{"title":null}},"color":{"field":"s","type":"nominal"},"strokeDash":{"field":"s","type":"nominal"}}},
    {"data":{"name":"p8"},"mark":{"type":"line","strokeWidth":1.8},"encoding":{"x":{"field":"x","type":"quantitative"},"y":{"field":"y","type":"quantitative"},"color":{"field":"s","type":"nominal"},"strokeDash":{"field":"s","type":"nominal"}}},
    {"data":{"values":[{}]},"mark":{"type":"text","text":["MR","AUTODOCK"],"align":"left","baseline":"alphabetic","font":"DejaVu Sans","fontWeight":"bold","fontSize":15,"lineHeight":16.5,"color":"#000000"},"encoding":{"x":{"datum":0.395,"type":"quantitative"},"y":{"datum":0.11,"type":"quantitative"}}}
   ]}
]
}
